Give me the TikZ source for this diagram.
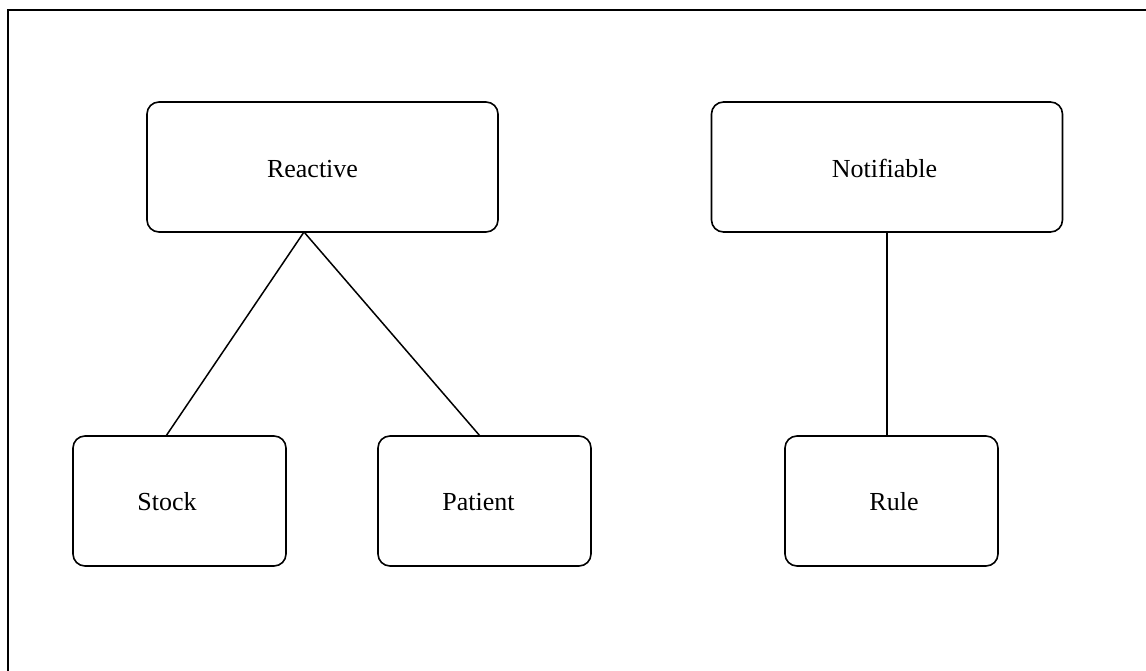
\documentclass[tikz,border=0pt]{standalone}
\usepackage{fontspec}
\setmainfont{Liberation Serif}
\begin{document}
\begin{tikzpicture}[x=1pt,y=-1pt,
  classbox/.style={draw,line width=1.6pt,rounded corners=12pt,inner sep=0pt,outer sep=0pt},
  bigbox/.style={classbox,minimum width=351pt,minimum height=130pt},
  smallbox/.style={classbox,minimum width=213pt,minimum height=130pt},
  caption/.style={anchor=base,inner sep=0pt,font=\fontsize{26}{30}\selectfont},
  link/.style={line width=1.5pt}]
  \useasboundingbox (0,0) rectangle (1146,671);
  \clip (0,0) rectangle (1146,671);
  % outer frame, running past the right and bottom edges
  \draw[line width=1.8pt] (8,10) rectangle (1200,720);

  % class boxes
  \node[bigbox] (reactive) at (322.5,167) {};
  \node[bigbox] (notifiable) at (887,167) {};
  \node[smallbox] (stock) at (179.5,501) {};
  \node[smallbox] (patient) at (484.5,501) {};
  \node[smallbox] (rule) at (891.5,501) {};

  % names
  \node[caption] (reactivetxt) at (312.5,178) {Reactive};
  \node[caption] (notifiabletxt) at (884.5,177.5) {Notifiable};
  \node[caption] (stocktxt) at (167,510) {Stock};
  \node[caption] (patienttxt) at (478.5,510) {Patient};
  \node[caption] (ruletxt) at (894,510) {Rule};

  % links
  \draw[link] ([xshift=-18.5pt]reactive.south) -- ([xshift=-13.5pt]stock.north);
  \draw[link] ([xshift=-18.5pt]reactive.south) -- ([xshift=-4.5pt]patient.north);
  \draw[link] (notifiable.south) -- ([xshift=-4.5pt]rule.north);
\end{tikzpicture}
\end{document}
